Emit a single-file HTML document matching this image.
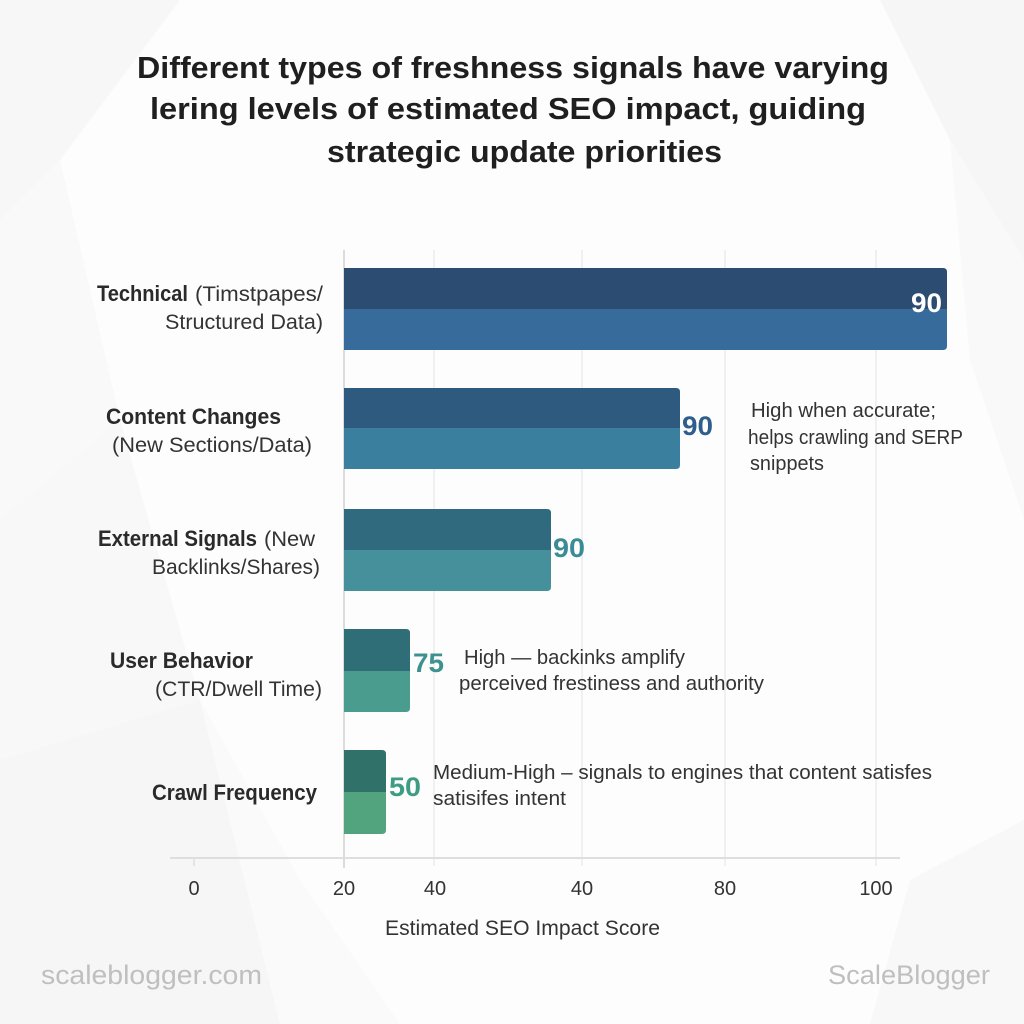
<!DOCTYPE html>
<html>
<head>
<meta charset="utf-8">
<style>
  html, body { margin: 0; padding: 0; background: #ffffff; }
  svg { display: block; }
  text { font-family: "Liberation Sans", "DejaVu Sans", sans-serif; }
</style>
</head>
<body>
<svg width="1024" height="1024" viewBox="0 0 1024 1024" xmlns="http://www.w3.org/2000/svg">
  <!-- background -->
  <rect x="0" y="0" width="1024" height="1024" fill="#fdfdfd"/>
  <polygon points="0,0 180,0 60,160 0,220" fill="#f7f7f7"/>
  <polygon points="0,220 60,160 120,420 0,520" fill="#f9f9f9"/>
  <polygon points="0,520 120,420 200,700 0,760" fill="#f8f8f8"/>
  <polygon points="0,760 200,700 280,1024 0,1024" fill="#f6f6f6"/>
  <polygon points="200,700 280,1024 400,1024 300,880" fill="#fafafa"/>
  <polygon points="880,0 1024,0 1024,260 950,140" fill="#f6f6f6"/>
  <polygon points="950,140 1024,260 1024,520 970,360" fill="#f9f9f9"/>
  <polygon points="910,880 1024,820 1024,1024 870,1024" fill="#f8f8f8"/>

  <!-- title -->
  <g fill="#1f1f1f" font-weight="bold" font-size="31">
    <text x="137" y="78" textLength="752" lengthAdjust="spacingAndGlyphs">Different types of freshness signals have varying</text>
    <text x="150" y="119" textLength="716" lengthAdjust="spacingAndGlyphs">lering levels of estimated SEO impact, guiding</text>
    <text x="327" y="162" textLength="395" lengthAdjust="spacingAndGlyphs">strategic update priorities</text>
  </g>

  <!-- gridlines -->
  <g stroke="#ebebeb" stroke-width="1.5">
    <line x1="434" y1="250" x2="434" y2="866"/>
    <line x1="582" y1="250" x2="582" y2="866"/>
    <line x1="725" y1="250" x2="725" y2="866"/>
    <line x1="876" y1="250" x2="876" y2="866"/>
  </g>
  <line x1="170" y1="858" x2="900" y2="858" stroke="#dedede" stroke-width="2"/>
  <line x1="344" y1="250" x2="344" y2="868" stroke="#dcdcdc" stroke-width="2"/>
  <line x1="194" y1="858" x2="194" y2="866" stroke="#dedede" stroke-width="1.5"/>

  <!-- bars -->
  <defs>
    <clipPath id="c1"><path d="M344,268 H943 Q947,268 947,272 V346 Q947,350 943,350 H344 Z"/></clipPath>
    <clipPath id="c2"><path d="M344,388 H676 Q680,388 680,392 V465 Q680,469 676,469 H344 Z"/></clipPath>
    <clipPath id="c3"><path d="M344,509 H547 Q551,509 551,513 V587 Q551,591 547,591 H344 Z"/></clipPath>
    <clipPath id="c4"><path d="M344,629 H406 Q410,629 410,633 V708 Q410,712 406,712 H344 Z"/></clipPath>
    <clipPath id="c5"><path d="M344,750 H382 Q386,750 386,754 V830 Q386,834 382,834 H344 Z"/></clipPath>
  </defs>
  <g clip-path="url(#c1)">
    <rect x="344" y="268" width="603" height="41" fill="#2d4c71"/>
    <rect x="344" y="309" width="603" height="41" fill="#366b9c"/>
  </g>
  <g clip-path="url(#c2)">
    <rect x="344" y="388" width="336" height="40" fill="#2e5a80"/>
    <rect x="344" y="428" width="336" height="41" fill="#3a7f9e"/>
  </g>
  <g clip-path="url(#c3)">
    <rect x="344" y="509" width="207" height="41" fill="#306a7e"/>
    <rect x="344" y="550" width="207" height="41" fill="#45909a"/>
  </g>
  <g clip-path="url(#c4)">
    <rect x="344" y="629" width="66" height="42" fill="#306e77"/>
    <rect x="344" y="671" width="66" height="41" fill="#4a9c8e"/>
  </g>
  <g clip-path="url(#c5)">
    <rect x="344" y="750" width="42" height="42" fill="#30726a"/>
    <rect x="344" y="792" width="42" height="42" fill="#52a47e"/>
  </g>

  <!-- value labels -->
  <g font-weight="bold" font-size="27">
    <text x="911" y="312" fill="#ffffff" textLength="31" lengthAdjust="spacingAndGlyphs">90</text>
    <text x="682" y="435" fill="#2e5f8c" textLength="31" lengthAdjust="spacingAndGlyphs">90</text>
    <text x="553" y="557" fill="#3a8b96" textLength="32" lengthAdjust="spacingAndGlyphs">90</text>
    <text x="413" y="672" fill="#3d9290" textLength="31" lengthAdjust="spacingAndGlyphs">75</text>
    <text x="389" y="796" fill="#3e9c82" textLength="32" lengthAdjust="spacingAndGlyphs">50</text>
  </g>

  <!-- category labels -->
  <g font-size="21" fill="#2a2a2a">
    <text x="97" y="301" font-weight="bold" font-size="22" textLength="91" lengthAdjust="spacingAndGlyphs">Technical</text>
    <text x="195" y="301" fill="#333" textLength="128" lengthAdjust="spacingAndGlyphs">(Timstpapes/</text>
    <text x="165" y="329" fill="#333" textLength="158" lengthAdjust="spacingAndGlyphs">Structured Data)</text>

    <text x="106" y="424" font-weight="bold" font-size="22" textLength="175" lengthAdjust="spacingAndGlyphs">Content Changes</text>
    <text x="112" y="452" fill="#333" textLength="200" lengthAdjust="spacingAndGlyphs">(New Sections/Data)</text>

    <text x="98" y="546" font-weight="bold" font-size="22" textLength="159" lengthAdjust="spacingAndGlyphs">External Signals</text>
    <text x="264" y="546" fill="#333" textLength="51" lengthAdjust="spacingAndGlyphs">(New</text>
    <text x="152" y="574" fill="#333" textLength="168" lengthAdjust="spacingAndGlyphs">Backlinks/Shares)</text>

    <text x="110" y="668" font-weight="bold" font-size="22" textLength="143" lengthAdjust="spacingAndGlyphs">User Behavior</text>
    <text x="155" y="696" fill="#333" textLength="167" lengthAdjust="spacingAndGlyphs">(CTR/Dwell Time)</text>

    <text x="152" y="800" font-weight="bold" font-size="22" textLength="165" lengthAdjust="spacingAndGlyphs">Crawl Frequency</text>
  </g>

  <!-- annotations -->
  <g font-size="20" fill="#333333">
    <text x="751" y="417" textLength="185" lengthAdjust="spacingAndGlyphs">High when accurate;</text>
    <text x="748" y="444" textLength="215" lengthAdjust="spacingAndGlyphs">helps crawling and SERP</text>
    <text x="750" y="470" textLength="74" lengthAdjust="spacingAndGlyphs">snippets</text>

    <text x="464" y="664" textLength="221" lengthAdjust="spacingAndGlyphs">High — backinks amplify</text>
    <text x="459" y="690" textLength="305" lengthAdjust="spacingAndGlyphs">perceived frestiness and authority</text>

    <text x="433" y="779" textLength="499" lengthAdjust="spacingAndGlyphs">Medium-High – signals to engines that content satisfes</text>
    <text x="433" y="805" textLength="133" lengthAdjust="spacingAndGlyphs">satisifes intent</text>
  </g>

  <!-- tick labels -->
  <g font-size="20" fill="#333333" text-anchor="middle">
    <text x="194" y="895">0</text>
    <text x="344" y="895">20</text>
    <text x="435" y="895">40</text>
    <text x="582" y="895">40</text>
    <text x="725" y="895">80</text>
    <text x="876" y="895">100</text>
  </g>
  <text x="385" y="935" font-size="21" fill="#333333" textLength="275" lengthAdjust="spacingAndGlyphs">Estimated SEO Impact Score</text>

  <!-- watermarks -->
  <text x="41" y="984" font-size="27" fill="#bfbfbf" textLength="221" lengthAdjust="spacingAndGlyphs">scaleblogger.com</text>
  <text x="828" y="984" font-size="27" fill="#bfbfbf" textLength="162" lengthAdjust="spacingAndGlyphs">ScaleBlogger</text>
</svg>
</body>
</html>
